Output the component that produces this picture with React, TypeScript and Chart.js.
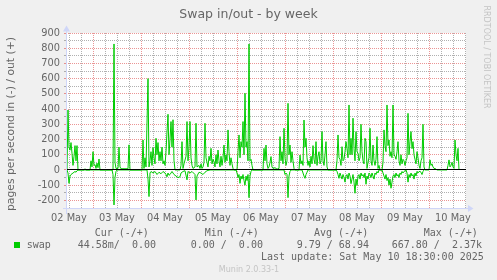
import React, { useEffect, useRef } from 'react';
import { Chart, registerables } from 'chart.js';

Chart.register(...registerables);

const TITLE = 'Swap in/out - by week';
const Y_TITLE = 'pages per second in (-) / out (+)';
const DAY_LABELS = ['02 May', '03 May', '04 May', '05 May', '06 May', '07 May', '08 May', '09 May', '10 May'];
const DAY_LABEL_HOURS = [12, 36, 60, 84, 108, 132, 156, 180, 204];
const Y_LABEL_STEP = 100;
const Y_GRID_STEP = 50;
const X_GRID_STEP_HOURS = 6;
const X_MIN_HOUR = 10.5;
const X_MAX_HOUR = 210.5;
const Y_MIN = -250;
const Y_MAX = 900;

// [hours since 02 May 00:00, pages per second]
const swapOut: [number, number][] = [
  [11, 0], [11.5, 394], [12, 150], [12.5, 130], [13, 180], [13.5, 110], [14, 30], [14.5, 90], [15, 160], [15.5, 60], [16, 160], [16.5, 0],
  [19.5, 0], [20, 8], [20.5, 0], [22.5, 0], [23, 60], [23.5, 20], [24, 120], [24.5, 30], [25, 35], [25.5, 10], [26, 45], [26.5, 15], [27, 72], [27.5, 0],
  [34, 0], [34.5, 828], [35, 50], [35.5, 10], [36.5, 10], [37, 150], [37.5, 20], [38, 8], [41.5, 8], [42, 165], [42.5, 0],
  [48.5, 0], [49, 197], [49.5, 10], [50, 80], [50.5, 20], [51.5, 600], [52, 20], [52.5, 60], [53, 120], [53.5, 30], [54, 147], [54.5, 80], [55, 40],
  [55.5, 208], [56, 100], [56.5, 180], [57, 60], [57.5, 120], [58, 60], [58.5, 150], [59, 40], [59.5, 60], [60, 30], [60.5, 120], [61, 250],
  [61.5, 366], [62, 100], [62.5, 200], [63, 318], [63.5, 150], [64, 330], [64.5, 60], [65, 0], [67.5, 0], [68, 30], [68.5, 186], [69, 10], [69.5, 40],
  [70.5, 90], [71, 318], [71.5, 60], [72, 150], [72.5, 318], [73, 80], [73.5, 30], [74, 10], [75, 20], [75.5, 307], [76, 20], [77, 30], [77.5, 10],
  [78, 40], [78.5, 10], [79, 20], [79.5, 50], [80, 307], [80.5, 80], [81, 50], [81.5, 20], [82, 90], [82.5, 60], [83, 142], [83.5, 40], [84, 70],
  [84.5, 55], [85, 20], [85.5, 100], [86, 40], [86.5, 131], [87, 60], [87.5, 20], [88, 90], [88.5, 30], [89, 80], [89.5, 164], [90, 50], [90.5, 100],
  [91, 60], [91.5, 263], [92, 120], [92.5, 30], [93, 80], [93.5, 40], [94, 10], [94.5, 0], [96, 0], [96.5, 120], [97, 230], [97.5, 80], [98, 186],
  [98.5, 150], [99, 318], [99.5, 100], [100, 504], [100.5, 150], [101, 186], [101.5, 60], [102, 828], [102.5, 60], [103, 70], [103.5, 30], [104, 0],
  [109, 0], [109.5, 142], [110, 60], [110.5, 164], [111, 40], [111.5, 10], [112, 20], [112.5, 50], [113, 88], [113.5, 20], [114, 10], [115, 15],
  [116, 5], [117, 10], [117.5, 219], [118, 60], [118.5, 120], [119, 40], [119.5, 274], [120, 80], [120.5, 30], [121, 60], [121.5, 438], [122, 100],
  [122.5, 164], [123, 50], [123.5, 120], [124, 60], [124.5, 10], [125, 0], [127, 0], [127.5, 98], [128, 40], [128.5, 60], [129, 30], [129.5, 328],
  [130, 150], [130.5, 208], [131, 80], [131.5, 30], [132, 60], [132.5, 20], [133, 90], [133.5, 40], [134, 160], [134.5, 70], [135, 40], [135.5, 186],
  [136, 30], [136.5, 90], [137, 120], [137.5, 40], [138, 60], [138.5, 252], [139, 60], [139.5, 30], [140, 100], [140.5, 186], [141, 20], [141.5, 0],
  [145.5, 0], [146, 60], [146.5, 230], [147, 80], [147.5, 70], [148, 30], [148.5, 153], [149, 60], [149.5, 70], [150, 120], [150.5, 186], [151, 140],
  [151.5, 80], [152, 427], [152.5, 100], [153, 208], [153.5, 100], [154, 340], [154.5, 140], [155, 60], [155.5, 252], [156, 120], [156.5, 110],
  [157, 60], [157.5, 80], [158, 300], [158.5, 120], [159, 60], [159.5, 40], [160, 208], [160.5, 186], [161, 10], [161.5, 50], [162, 80], [162.5, 274],
  [163, 60], [163.5, 30], [164, 164], [164.5, 60], [165, 30], [165.5, 70], [166, 219], [166.5, 10], [167, 30], [167.5, 0], [168.5, 0], [169, 50],
  [169.5, 263], [170, 160], [170.5, 120], [171, 427], [171.5, 160], [172, 197], [172.5, 90], [173, 120], [173.5, 80], [174, 427], [174.5, 100],
  [175, 90], [175.5, 70], [176, 120], [176.5, 186], [177, 60], [177.5, 30], [178, 100], [178.5, 40], [179, 70], [179.5, 60], [180, 30], [180.5, 60],
  [181, 80], [181.5, 372], [182, 100], [182.5, 186], [183, 252], [183.5, 140], [184, 186], [184.5, 100], [185, 70], [185.5, 40], [186, 120],
  [186.5, 80], [187, 30], [187.5, 10], [188, 60], [188.5, 80], [189, 300], [189.5, 20], [190, 0], [192, 0], [192.5, 66], [193, 30], [193.5, 40],
  [194, 20], [194.5, 10], [195, 10], [195.5, 5], [196, 0], [201, 0], [201.5, 30], [202, 66], [202.5, 20], [203, 30], [203.5, 50], [204, 20],
  [204.5, 10], [205, 197], [205.5, 100], [206, 60], [206.5, 142], [207, 0],
];

// [hours since 02 May 00:00, pages per second swapped in] (drawn below zero)
const swapIn: [number, number][] = [
  [11, 0], [11.5, 20], [12, 88], [12.5, 40], [13, 30], [13.5, 25], [14, 20], [14.5, 15], [15, 10], [15.5, 15], [16, 5], [16.5, 0],
  [33.5, 0], [34, 30], [34.5, 230], [35, 50], [35.5, 10], [36, 0],
  [51, 0], [51.5, 60], [52, 175], [52.5, 20], [53, 10], [54, 20], [55, 10], [56, 30], [57, 15], [58, 25], [59, 10], [60, 20], [60.5, 30], [61, 45],
  [61.5, 20], [62, 35], [62.5, 30], [63.5, 10], [64.5, 30], [65.5, 40], [66.5, 50], [67.5, 45], [68, 20], [69, 10], [70, 5], [71, 65], [71.5, 10],
  [72.5, 20], [73.5, 10], [75, 30], [75.5, 197], [76, 40], [77, 15], [78, 20], [79, 30], [80, 15], [81, 5], [82.5, 0],
  [95.5, 0], [96, 20], [96.5, 50], [97, 30], [97.5, 88], [98, 40], [98.5, 60], [99, 30], [99.5, 70], [100, 100], [100.5, 40], [101, 70], [101.5, 30],
  [102, 182], [102.5, 40], [103, 10], [103.5, 0],
  [119.5, 0], [120, 30], [120.5, 20], [121, 30], [121.5, 182], [122, 40], [122.5, 10], [123, 0],
  [128.5, 0], [129, 20], [129.5, 40], [130, 55], [130.5, 30], [131, 15], [131.5, 0],
  [145.5, 0], [146, 10], [146.5, 30], [147, 55], [147.5, 20], [148, 40], [148.5, 60], [149, 30], [149.5, 50], [150, 80], [150.5, 40], [151, 30],
  [151.5, 60], [152, 20], [152.5, 40], [153, 90], [153.5, 60], [154, 30], [154.5, 80], [155, 153], [155.5, 60], [156, 100], [156.5, 40], [157, 30],
  [157.5, 60], [158, 20], [158.5, 40], [159, 30], [159.5, 50], [160, 20], [160.5, 94], [161, 40], [161.5, 60], [162, 20], [162.5, 30], [163, 50],
  [163.5, 20], [164, 40], [164.5, 60], [165, 20], [165.5, 30], [166, 10], [166.5, 20], [167, 0],
  [168.5, 0], [169, 20], [169.5, 40], [170, 60], [170.5, 30], [171, 70], [171.5, 50], [172, 100], [172.5, 60], [173, 120], [173.5, 80], [174, 40],
  [174.5, 30], [175, 50], [175.5, 20], [176, 40], [176.5, 30], [177, 50], [177.5, 20], [178, 30], [178.5, 10], [179, 20], [179.5, 10], [180, 5],
  [180.5, 0], [181, 20], [181.5, 80], [182, 30], [182.5, 50], [183, 20], [183.5, 40], [184, 30], [184.5, 60], [185, 20], [185.5, 40], [186, 10],
  [186.5, 20], [187, 10], [187.5, 10], [188, 15], [188.5, 30], [189, 10], [189.5, 0],
];

const LEGEND_HEADERS = ['Cur (-/+)', 'Min (-/+)', 'Avg (-/+)', 'Max (-/+)'];
const LEGEND_SERIES = 'swap';
const LEGEND_VALUES = ['44.58m/  0.00', '0.00 /  0.00', '9.79 / 68.94', '667.80 /  2.37k'];
const LAST_UPDATE = 'Last update: Sat May 10 18:30:00 2025';
const VERSION = 'Munin 2.0.33-1';
const WATERMARK = 'RRDTOOL / TOBI OETIKER';

const GREEN = '#00cc00';
const AXIS = '#cfd6f8';
const FONT_COLOR = '#666666';
const MINOR_GRID = 'rgba(143,143,143,0.7)';
const MAJOR_GRID = 'rgba(222,79,79,0.6)';
const SANS = '"DejaVu Sans", sans-serif';
const MONO = '"DejaVu Sans Mono", monospace';

const muninPlugin = {
  id: 'muninDecor',
  beforeDraw(chart: any) {
    const { ctx, chartArea: a } = chart;
    ctx.save();
    ctx.fillStyle = '#f0f0f0';
    ctx.fillRect(0, 0, chart.width, chart.height);
    ctx.fillStyle = '#ffffff';
    ctx.fillRect(a.left, a.top, a.right - a.left, a.bottom - a.top);
    ctx.restore();
  },
  beforeDatasetsDraw(chart: any) {
    const { ctx, chartArea: a, scales } = chart;
    ctx.save();
    ctx.lineWidth = 1;
    scales.x.ticks.forEach((t: any) => {
      const px = Math.floor(scales.x.getPixelForValue(t.value)) + 0.5;
      ctx.strokeStyle = t.value % 24 === 0 ? MAJOR_GRID : MINOR_GRID;
      ctx.setLineDash([1, 1]);
      ctx.beginPath();
      ctx.moveTo(px, a.top);
      ctx.lineTo(px, a.bottom);
      ctx.stroke();
    });
    scales.y.ticks.forEach((t: any) => {
      const py = Math.floor(scales.y.getPixelForValue(t.value)) + 0.5;
      const major = t.value % Y_LABEL_STEP === 0;
      ctx.strokeStyle = major ? MAJOR_GRID : MINOR_GRID;
      ctx.setLineDash([1, 1]);
      ctx.beginPath();
      ctx.moveTo(a.left, py);
      ctx.lineTo(a.right, py);
      ctx.stroke();
      ctx.setLineDash([]);
      ctx.beginPath();
      ctx.moveTo(a.left - 2, py);
      ctx.lineTo(a.left, py);
      ctx.stroke();
    });
    ctx.restore();
  },
  afterDatasetsDraw(chart: any) {
    const { ctx, chartArea: a, scales } = chart;
    ctx.save();
    const y0 = Math.floor(scales.y.getPixelForValue(0)) + 0.5;
    ctx.setLineDash([]);
    ctx.strokeStyle = '#000000';
    ctx.lineWidth = 1;
    ctx.beginPath();
    ctx.moveTo(a.left, y0);
    ctx.lineTo(a.right, y0);
    ctx.stroke();

    const xb = Math.floor(a.bottom) + 0.5;
    const xl = Math.floor(a.left) + 0.5;
    ctx.strokeStyle = AXIS;
    ctx.fillStyle = AXIS;
    ctx.beginPath();
    ctx.moveTo(a.left - 3, xb);
    ctx.lineTo(a.right + 3, xb);
    ctx.moveTo(xl, a.bottom + 6);
    ctx.lineTo(xl, a.top - 2);
    ctx.stroke();
    ctx.beginPath();
    ctx.moveTo(a.right + 2, xb - 3.5);
    ctx.lineTo(a.right + 2, xb + 3.5);
    ctx.lineTo(a.right + 7.5, xb);
    ctx.closePath();
    ctx.fill();
    ctx.beginPath();
    ctx.moveTo(xl - 3.5, a.top - 1.5);
    ctx.lineTo(xl + 3.5, a.top - 1.5);
    ctx.lineTo(xl, a.top - 7.5);
    ctx.closePath();
    ctx.fill();

    ctx.fillStyle = FONT_COLOR;
    ctx.font = `12.5px ${SANS}`;
    ctx.textAlign = 'center';
    ctx.textBaseline = 'alphabetic';
    ctx.fillText(TITLE, 248.5, 17.5);

    ctx.save();
    ctx.translate(11.5, 124);
    ctx.rotate(-Math.PI / 2);
    ctx.font = `10.8px ${SANS}`;
    ctx.textBaseline = 'middle';
    ctx.textAlign = 'center';
    ctx.fillText(Y_TITLE, 0, 0);
    ctx.restore();

    ctx.save();
    ctx.translate(486.5, 57);
    ctx.rotate(Math.PI / 2);
    ctx.font = `8px ${SANS}`;
    ctx.fillStyle = '#c4c4c4';
    ctx.textBaseline = 'middle';
    ctx.textAlign = 'center';
    ctx.fillText(WATERMARK, 0, 0);
    ctx.restore();

    ctx.font = `10px ${MONO}`;
    ctx.textAlign = 'left';
    ctx.textBaseline = 'middle';
    ctx.fillStyle = FONT_COLOR;
    const colX = [94.7, 204.7, 314, 423.7];
    LEGEND_HEADERS.forEach((h, i) => ctx.fillText(h, colX[i], 233.5));
    const valX = [77.7, 190.7, 296.7, 391.7];
    LEGEND_VALUES.forEach((v, i) => ctx.fillText(v, valX[i], 245.5));
    ctx.fillText(LEGEND_SERIES, 26.7, 245.5);
    ctx.fillText(LAST_UPDATE, 261, 257.5);
    ctx.fillStyle = GREEN;
    ctx.fillRect(14, 242, 6, 6);

    ctx.font = `8px ${SANS}`;
    ctx.fillStyle = '#c4c4c4';
    ctx.textAlign = 'center';
    ctx.fillText(VERSION, 249, 269.5);
    ctx.restore();
  },
};

export default function App() {
  const ref = useRef<HTMLCanvasElement>(null);

  useEffect(() => {
    if (!ref.current) return;
    const xGrid: number[] = [];
    for (let h = 12; h <= X_MAX_HOUR; h += X_GRID_STEP_HOURS) xGrid.push(h);
    const yGrid: number[] = [];
    for (let v = -200; v <= Y_MAX; v += Y_GRID_STEP) yGrid.push(v);

    const chart = new Chart(ref.current, {
      type: 'line',
      data: {
        datasets: [
          {
            label: 'swap out',
            data: swapOut.map(([h, v]) => ({ x: h, y: v })),
            borderColor: GREEN,
            borderWidth: 1,
            pointRadius: 0,
            tension: 0,
            fill: false,
          },
          {
            label: 'swap in',
            data: swapIn.map(([h, v]) => ({ x: h, y: -v })),
            borderColor: GREEN,
            borderWidth: 1,
            pointRadius: 0,
            tension: 0,
            fill: false,
          },
        ],
      },
      options: {
        animation: false,
        responsive: false,
        devicePixelRatio: 1,
        layout: { padding: { top: 33, right: 31, left: 0, bottom: 0 } },
        plugins: { legend: { display: false }, tooltip: { enabled: false }, title: { display: false } },
        scales: {
          x: {
            type: 'linear',
            min: X_MIN_HOUR,
            max: X_MAX_HOUR,
            afterBuildTicks: (s: any) => {
              s.ticks = xGrid.map((v) => ({ value: v }));
            },
            afterFit: (s: any) => {
              s.height = 72;
            },
            grid: { display: false, drawTicks: false, tickLength: 0 },
            border: { display: false },
            ticks: {
              autoSkip: false,
              maxRotation: 0,
              padding: 5,
              color: FONT_COLOR,
              font: { family: 'DejaVu Sans', size: 9.8 },
              callback: (v: any) => {
                const i = DAY_LABEL_HOURS.indexOf(Number(v));
                return i >= 0 ? DAY_LABELS[i] : '';
              },
            },
          },
          y: {
            type: 'linear',
            min: Y_MIN,
            max: Y_MAX,
            afterBuildTicks: (s: any) => {
              s.ticks = yGrid.map((v) => ({ value: v }));
            },
            afterFit: (s: any) => {
              s.width = 66;
            },
            grid: { display: false, drawTicks: false, tickLength: 0 },
            border: { display: false },
            ticks: {
              autoSkip: false,
              padding: 6,
              color: FONT_COLOR,
              font: { family: 'DejaVu Sans', size: 9.8 },
              callback: (v: any) => (Number(v) % Y_LABEL_STEP === 0 ? String(v) : ''),
            },
          },
        },
      },
      plugins: [muninPlugin],
    } as any);
    return () => chart.destroy();
  }, []);

  return (
    <div style={{ position: 'fixed', left: 0, top: 0, width: 497, height: 280, background: '#f0f0f0' }}>
      <canvas ref={ref} width={497} height={280} style={{ display: 'block', width: 497, height: 280 }} />
    </div>
  );
}
